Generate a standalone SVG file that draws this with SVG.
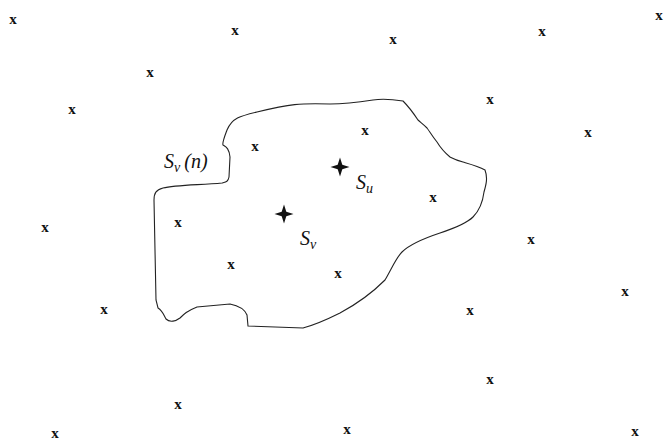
<svg xmlns="http://www.w3.org/2000/svg" width="664" height="447" viewBox="0 0 664 447">
<style>
.x{font-family:"Liberation Serif",serif;font-weight:bold;font-size:15px;text-anchor:middle;fill:#111}
.l{font-family:"Liberation Serif",serif;font-style:italic;font-size:20px;fill:#111}
.s{font-size:14px}
.b{fill:none;stroke:#222;stroke-width:1.1}
.st{fill:#111}
</style>
<defs>
<path id="star" d="M0,-9.5 L2.3,-2.3 L9.5,0 L2.3,2.3 L0,9.5 L-2.3,2.3 L-9.5,0 L-2.3,-2.3 Z"/>
</defs>
<rect width="664" height="447" fill="#fff"/>
<g id="region">
<path class="b" d="M330,104 C300,103 290,104 257,112 C240,116 232,118 227,130 C224,138 222,143 223,145 C226,147 229,148 230,157 L229,177 C228,182 226,182 222,183 C200,185 175,185 163,188 C156,190 154,193 154,200 L156,300 L158,308 C163,311 164,316 166,319 C170,323 176,321 180,318 C184,314 187,311 197,307 L230,304 C240,306 245,310 247,315 L248,326 L303,328 C318,324 330,318 340,313 C355,305 370,295 385,280 C392,268 396,258 402,252 C410,244 425,238 440,233 C455,228 468,222 473,217 C480,210 483,200 484,192 C486,185 488,178 485,170 C478,166 470,164 463,162 C455,160 452,158 450,157 C444,152 440,147 437,142 C432,136 430,132 427,128 C423,124 420,122 418,120 C412,111 407,105 403,101 C390,99 380,99 373,100 C360,102 345,104 330,104 Z"/>
</g>
<g id="labels">
<text class="l" x="164" y="168">S<tspan class="s" dy="4">v</tspan><tspan dy="-4" dx="4">(n)</tspan></text>
<text class="l" x="356" y="189">S<tspan class="s" dy="4">u</tspan></text>
<text class="l" x="300" y="245">S<tspan class="s" dy="4">v</tspan></text>
</g>
<g id="stars">
<use href="#star" class="st" x="340" y="167"/>
<use href="#star" class="st" x="284" y="214"/>
</g>
<g id="points">
<text class="x" x="13" y="24">x</text>
<text class="x" x="235" y="35">x</text>
<text class="x" x="393" y="44">x</text>
<text class="x" x="542" y="36">x</text>
<text class="x" x="659" y="20">x</text>
<text class="x" x="150" y="77">x</text>
<text class="x" x="72" y="114">x</text>
<text class="x" x="490" y="104">x</text>
<text class="x" x="588" y="137">x</text>
<text class="x" x="365" y="135">x</text>
<text class="x" x="255" y="151">x</text>
<text class="x" x="433" y="202">x</text>
<text class="x" x="45" y="232">x</text>
<text class="x" x="178" y="227">x</text>
<text class="x" x="531" y="244">x</text>
<text class="x" x="231" y="269">x</text>
<text class="x" x="338" y="278">x</text>
<text class="x" x="104" y="314">x</text>
<text class="x" x="470" y="315">x</text>
<text class="x" x="625" y="296">x</text>
<text class="x" x="490" y="384">x</text>
<text class="x" x="178" y="409">x</text>
<text class="x" x="55" y="438">x</text>
<text class="x" x="347" y="434">x</text>
<text class="x" x="635" y="436">x</text>
</g>
</svg>
